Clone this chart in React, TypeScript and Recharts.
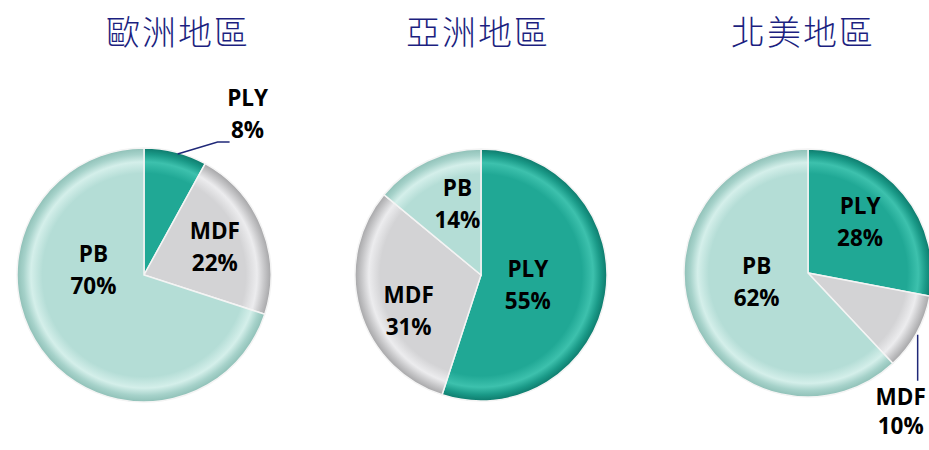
import { Pie, PieChart, Cell } from 'recharts';

const regions = ['歐洲地區', '亞洲地區', '北美地區'];
const categories = ['PLY', 'MDF', 'PB'];
const europeShares = [8, 22, 70];
const asiaShares = [55, 31, 14];
const northAmericaShares = [28, 10, 62];

const COLORS: Record<string, string[]> = {
  // base, highlight ring, inner shade, rim
  PLY: ['#20a895', '#3dc1ad', '#1a9a88', '#0e7a6c'],
  MDF: ['#d3d3d5', '#ececee', '#c5c5c7', '#a6a6a8'],
  PB: ['#b4ddd6', '#d4efea', '#a6d2ca', '#8fc0b7'],
};

const LINE_COLOR = '#1f2878';
const TITLE_COLOR = '#1c1f80';
const FONT = '"Open Sans", "Noto Sans", sans-serif';

// label placement per pie, one per slice (same order as categories)
// shift = degrees clockwise from the slice middle, f = fraction of radius
type LabelSpot =
  | { shift: number; f: number }
  | { line: number[][]; text: number[]; gap?: number };

const pies = [
  {
    title: regions[0],
    values: europeShares,
    cx: 144,
    cy: 275,
    r: 127,
    titleX: 178,
    labels: [
      { line: [[2, 2], [42, -10], [54, -10]], text: [72, -54] },
      { shift: 0, f: 0.6 },
      { shift: 42, f: 0.4 },
    ] as LabelSpot[],
  },
  {
    title: regions[1],
    values: asiaShares,
    cx: 481,
    cy: 275,
    r: 126,
    titleX: 478,
    labels: [
      { shift: 3, f: 0.38 },
      { shift: -10, f: 0.64 },
      { shift: 7, f: 0.6 },
    ] as LabelSpot[],
  },
  {
    title: regions[2],
    values: northAmericaShares,
    cx: 808,
    cy: 273,
    r: 124,
    titleX: 803,
    labels: [
      { shift: -5, f: 0.59 },
      { line: [[1, 2], [1, 48]], text: [-16, 64], gap: 29 },
      { shift: 12, f: 0.42 },
    ] as LabelSpot[],
  },
];

const RAD = Math.PI / 180;

function makeLabel(spots: LabelSpot[]) {
  return (props: any) => {
    const { cx, cy, midAngle, outerRadius, index, name, value } = props;
    const spot = spots[index];
    const textProps = {
      textAnchor: 'middle' as const,
      dominantBaseline: 'central' as const,
      fontFamily: FONT,
      fontWeight: 700,
      fontSize: 22.5,
      fill: '#000',
    };
    if ('line' in spot) {
      const px = cx + outerRadius * Math.cos(-midAngle * RAD);
      const py = cy + outerRadius * Math.sin(-midAngle * RAD);
      const pts = spot.line.map(([dx, dy]) => `${px + dx},${py + dy}`).join(' ');
      const tx = px + spot.text[0];
      const ty = py + spot.text[1];
      return (
        <g key={`lbl-${index}`}>
          <polyline points={pts} fill="none" stroke={LINE_COLOR} strokeWidth={1.5} />
          <text x={tx} y={ty} {...textProps}>{name}</text>
          <text x={tx} y={ty + (spot.gap ?? 32)} {...textProps}>{`${value}%`}</text>
        </g>
      );
    }
    // recharts angles run counter-clockwise, so a clockwise shift is subtracted
    const a = midAngle - spot.shift;
    const rr = outerRadius * spot.f;
    const x = cx + rr * Math.cos(-a * RAD);
    const y = cy + rr * Math.sin(-a * RAD);
    return (
      <g key={`lbl-${index}`}>
        <text x={x} y={y - 16} {...textProps}>{name}</text>
        <text x={x} y={y + 16} {...textProps}>{`${value}%`}</text>
      </g>
    );
  };
}

export default function App() {
  return (
    <div style={{ position: 'absolute', left: 0, top: 0, width: 929, height: 450, background: '#fff' }}>
      {pies.map((p) => (
        <div
          key={p.title}
          style={{
            position: 'absolute',
            left: p.titleX - 100,
            top: 8,
            width: 200,
            textAlign: 'center',
            fontFamily: '"Noto Sans CJK TC", sans-serif',
            fontSize: 34,
            fontWeight: 300,
            lineHeight: '46px',
            letterSpacing: 2,
            color: TITLE_COLOR,
          }}
        >
          {p.title}
        </div>
      ))}
      <PieChart
        width={929}
        height={450}
        margin={{ top: 0, right: 0, bottom: 0, left: 0 }}
        style={{ position: 'absolute', left: 0, top: 0 }}
      >
        <defs>
          {pies.map((p, pi) =>
            categories.map((c) => (
              <radialGradient
                key={`g-${pi}-${c}`}
                id={`g-${pi}-${c}`}
                gradientUnits="userSpaceOnUse"
                cx={p.cx}
                cy={p.cy}
                r={p.r}
                fx={p.cx}
                fy={p.cy}
              >
                <stop offset="0" stopColor={COLORS[c][0]} />
                <stop offset="0.8" stopColor={COLORS[c][0]} />
                <stop offset="0.89" stopColor={COLORS[c][1]} />
                <stop offset="0.95" stopColor={COLORS[c][2]} />
                <stop offset="1" stopColor={COLORS[c][3]} />
              </radialGradient>
            )),
          )}
        </defs>
        {pies.map((p, pi) => {
          const data = categories.map((c, i) => ({ name: c, value: p.values[i] }));
          return (
            <Pie
              key={p.title}
              data={data}
              dataKey="value"
              nameKey="name"
              cx={p.cx}
              cy={p.cy}
              outerRadius={p.r}
              startAngle={90}
              endAngle={-270}
              stroke="#f4f4f4"
              strokeWidth={1.5}
              labelLine={false}
              label={makeLabel(p.labels)}
              isAnimationActive={false}
            >
              {data.map((d) => (
                <Cell key={d.name} fill={`url(#g-${pi}-${d.name})`} />
              ))}
            </Pie>
          );
        })}
      </PieChart>
    </div>
  );
}
